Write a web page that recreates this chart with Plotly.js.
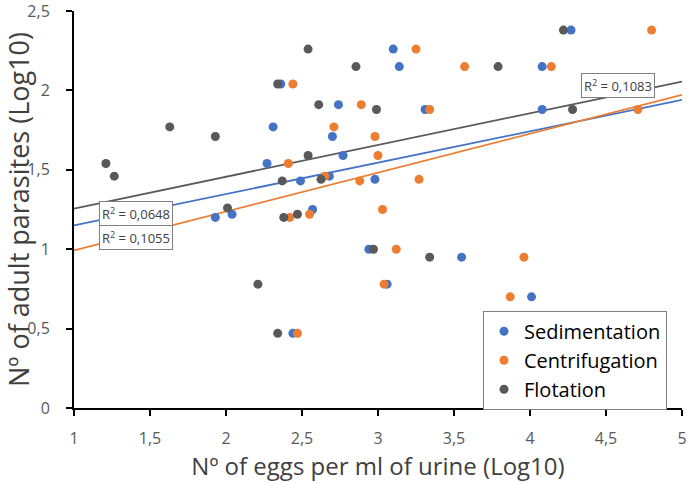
<!DOCTYPE html>
<html><head><meta charset="utf-8">
<script src="https://cdn.plot.ly/plotly-3.0.1.min.js"></script>
<style>html,body{margin:0;padding:0;background:#fff}#chart{width:688px;height:483px}</style>
</head><body><div id="chart"></div>
<script>
const seriesNames = ['Sedimentation', 'Centrifugation', 'Flotation'];
const seriesColors = ['#4472C4', '#ED7D31', '#595959'];

const sedX = [1.93, 2.04, 2.27, 2.31, 2.36, 2.44, 2.49, 2.57, 2.68, 2.70, 2.74, 2.77, 2.94, 2.98, 3.06, 3.10, 3.14, 3.31, 3.55, 4.01, 4.08, 4.08, 4.27];
const sedY = [1.20, 1.22, 1.54, 1.77, 2.04, 0.47, 1.43, 1.25, 1.46, 1.71, 1.91, 1.59, 1.00, 1.44, 0.78, 2.26, 2.15, 1.88, 0.95, 0.70, 1.88, 2.15, 2.38];

const cenX = [2.42, 2.41, 2.44, 2.47, 2.55, 2.65, 2.71, 2.88, 2.89, 2.98, 3.00, 3.03, 3.04, 3.12, 3.25, 3.27, 3.34, 3.57, 3.87, 3.96, 4.14, 4.71, 4.80];
const cenY = [1.20, 1.54, 2.04, 0.47, 1.22, 1.46, 1.77, 1.43, 1.91, 1.71, 1.59, 1.25, 0.78, 1.00, 2.26, 1.44, 1.88, 2.15, 0.70, 0.95, 2.15, 1.88, 2.38];

const floX = [1.21, 1.265, 1.63, 1.93, 2.01, 2.21, 2.34, 2.34, 2.37, 2.38, 2.47, 2.54, 2.54, 2.61, 2.625, 2.855, 2.97, 2.99, 3.34, 3.79, 4.22, 4.28];
const floY = [1.54, 1.46, 1.77, 1.71, 1.26, 0.78, 2.04, 0.47, 1.43, 1.20, 1.22, 2.26, 1.59, 1.91, 1.44, 2.15, 1.00, 1.88, 0.95, 2.15, 2.38, 1.88];

// linear trendlines y = a + b*x
const trendA = [0.9525, 0.747, 1.056];
const trendB = [0.1975, 0.245, 0.200];
const trendXRange = [1, 5];
const r2Labels = ['0,0648', '0,1055', '0,1083'];

const xTickVals = [1, 1.5, 2, 2.5, 3, 3.5, 4, 4.5, 5];
const xTickText = ['1', '1,5', '2', '2,5', '3', '3,5', '4', '4,5', '5'];
const yTickVals = [0, 0.5, 1, 1.5, 2, 2.5];
const yTickText = ['0', '0,5', '1', '1,5', '2', '2,5'];

const xTitle = 'Nº of eggs per ml of urine (Log10)';
const yTitle = 'Nº of adult parasites (Log10)';

const xs = [sedX, cenX, floX];
const ys = [sedY, cenY, floY];

const traces = [];
for (let i = 0; i < 3; i++) {
  traces.push({
    x: trendXRange,
    y: trendXRange.map(v => trendA[i] + trendB[i] * v),
    mode: 'lines', type: 'scatter', showlegend: false, hoverinfo: 'skip',
    line: {color: seriesColors[i], width: 1.8}
  });
}
for (let i = 0; i < 3; i++) {
  traces.push({
    x: xs[i], y: ys[i], name: seriesNames[i],
    mode: 'markers', type: 'scatter',
    marker: {color: seriesColors[i], size: 9}
  });
}

const FONT = '"Open Sans", sans-serif';
const boxStyle = {
  showarrow: false, bgcolor: '#ffffff', bordercolor: '#7f7f7f', borderwidth: 1,
  borderpad: 2, font: {size: 13, color: '#404040', family: FONT}
};
const annotations = [
  Object.assign({x: 1.408, y: 1.222, xref: 'x', yref: 'y', text: 'R<sup>2</sup> = ' + r2Labels[0]}, boxStyle),
  Object.assign({x: 1.408, y: 1.075, xref: 'x', yref: 'y', text: 'R<sup>2</sup> = ' + r2Labels[1]}, boxStyle),
  Object.assign({x: 4.58, y: 2.03, xref: 'x', yref: 'y', text: 'R<sup>2</sup> = ' + r2Labels[2]}, boxStyle)
];

const axisCommon = {
  showgrid: false, zeroline: false, showline: true, linecolor: '#000', linewidth: 2,
  ticks: 'outside', ticklen: 6, tickwidth: 2, tickcolor: '#000',
  tickfont: {size: 16, color: '#595959', family: FONT}, tickmode: 'array',
  ticklabeloverflow: 'allow'
};

const layout = {
  width: 688, height: 483,
  margin: {l: 74, r: 6, t: 11, b: 75},
  paper_bgcolor: '#fff', plot_bgcolor: '#fff',
  font: {family: FONT, color: '#595959'},
  xaxis: Object.assign({}, axisCommon, {
    range: [1, 5], tickvals: xTickVals, ticktext: xTickText, ticklabelstandoff: 9,
    title: {text: xTitle, font: {size: 24, color: '#404040', family: FONT}, standoff: 3}
  }),
  yaxis: Object.assign({}, axisCommon, {
    range: [0, 2.5], tickvals: yTickVals, ticktext: yTickText, ticklabelstandoff: 13,
    title: {text: yTitle, font: {size: 27, color: '#404040', family: FONT}, standoff: 3}
  }),
  legend: {
    x: 0.6727, y: 0.245, xanchor: 'left', yanchor: 'top',
    bordercolor: '#7f7f7f', borderwidth: 1, bgcolor: '#fff',
    font: {size: 20, color: '#000', family: FONT}, itemwidth: 30, tracegroupgap: 0
  },
  annotations: annotations,
  showlegend: true
};

Plotly.newPlot('chart', traces, layout, {displayModeBar: false, staticPlot: true});
</script>
</body></html>
